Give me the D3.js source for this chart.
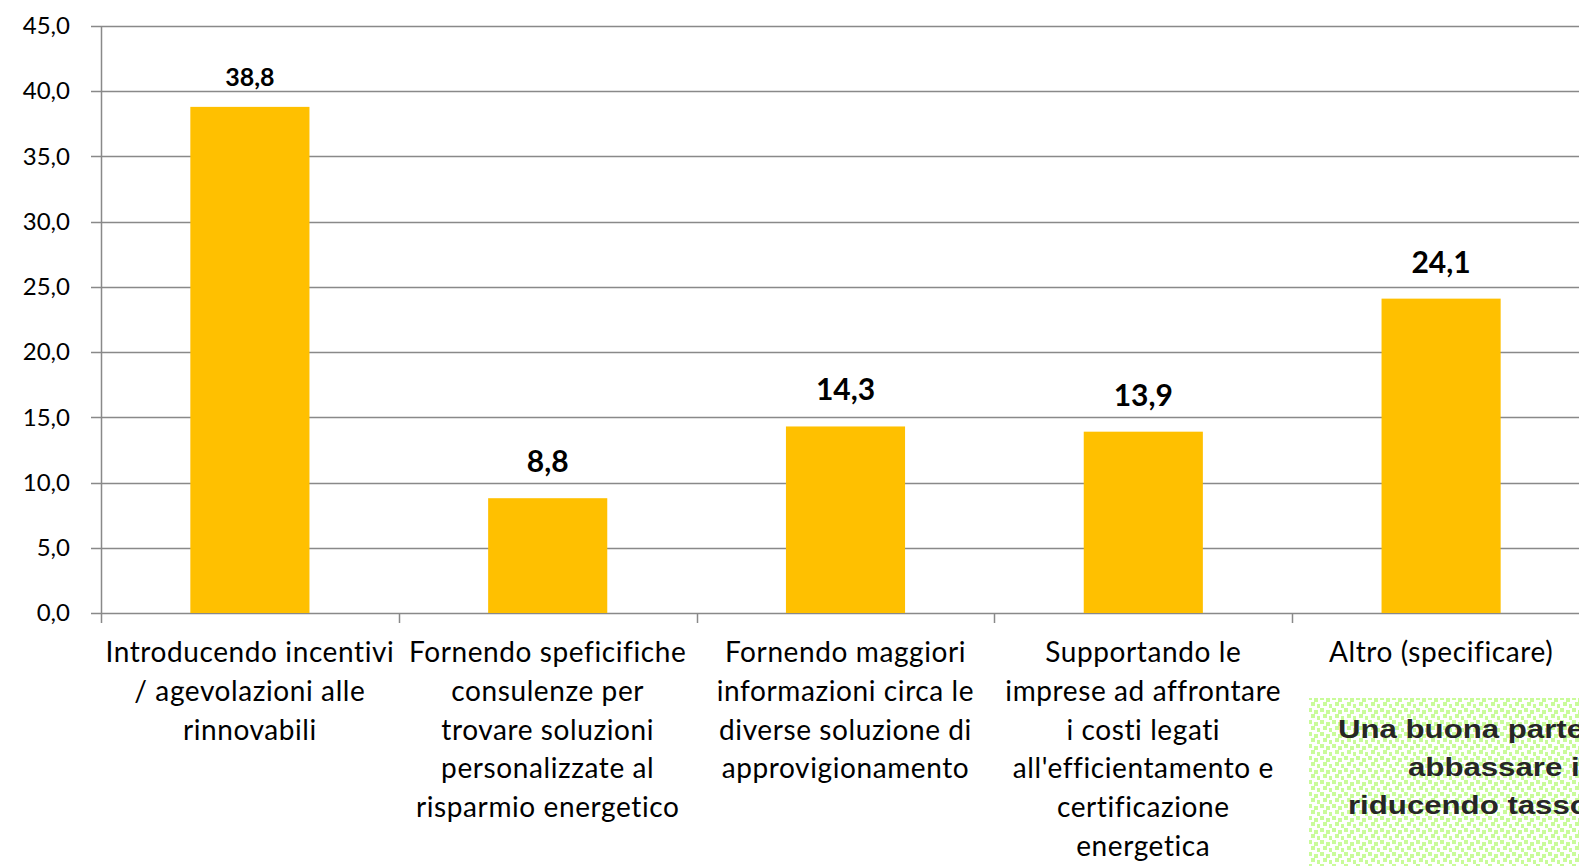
<!DOCTYPE html>
<html>
<head>
<meta charset="utf-8">
<script src="https://cdn.jsdelivr.net/npm/d3@7"></script>
<style>
  html, body { margin: 0; padding: 0; background: #fff; overflow: hidden; }
  svg { display: block; }
</style>
</head>
<body>
<div id="chart"></div>
<script>
// categories (already split in lines like the original)
var categories = [
  ["Introducendo incentivi", "/ agevolazioni alle", "rinnovabili"],
  ["Fornendo speficifiche", "consulenze per", "trovare soluzioni", "personalizzate al", "risparmio energetico"],
  ["Fornendo maggiori", "informazioni circa le", "diverse soluzione di", "approvigionamento"],
  ["Supportando le", "imprese ad affrontare", "i costi legati", "all'efficientamento e", "certificazione", "energetica"],
  ["Altro (specificare)"]
];
var values = [38.8, 8.8, 14.3, 13.9, 24.1];
var yTicks = [0, 5, 10, 15, 20, 25, 30, 35, 40, 45];
var noteLines = ["Una buona parte", "abbassare i", "riducendo tasso"];

var W = 1579, H = 866;
var mLeft = 101, mTop = 26, mBottom = 613, mRight = 1590;

var svg = d3.select('#chart').append('svg')
  .attr('width', W)
  .attr('height', H);

var x = d3.scaleBand()
  .domain(d3.range(values.length))
  .range([mLeft, mRight])
  .paddingInner(0.6)
  .paddingOuter(0.3);

var xCat = d3.scaleBand()
  .domain(d3.range(values.length))
  .range([mLeft, mRight]);

var y = d3.scaleLinear()
  .domain([0, 45])
  .range([mBottom, mTop]);

var fmt = function(v) { return d3.format('.1f')(v).replace('.', ','); };

// gridlines
svg.append('g').selectAll('line').data(yTicks).enter()
  .append('line')
  .attr('x1', 91).attr('x2', W)
  .attr('y1', function(d) { return Math.round(y(d)) + 0.5; })
  .attr('y2', function(d) { return Math.round(y(d)) + 0.5; })
  .style('stroke', '#898989')
  .style('stroke-width', 1.5);

// y axis
var yAxis = d3.axisLeft(y).tickValues(yTicks).tickFormat(fmt).tickSize(0).tickPadding(31);
var yg = svg.append('g').attr('transform', 'translate(' + mLeft + ',0)').call(yAxis);
yg.select('.domain').remove();
yg.selectAll('text')
  .style('font-family', 'Lato, "Open Sans", sans-serif')
  .style('font-size', '24px')
  .style('fill', '#000');
svg.append('line')
  .attr('x1', mLeft + 0.5).attr('x2', mLeft + 0.5)
  .attr('y1', mTop).attr('y2', mBottom + 10)
  .style('stroke', '#898989').style('stroke-width', 1.5);

// category ticks
svg.append('g').selectAll('line').data(d3.range(1, values.length)).enter()
  .append('line')
  .attr('x1', function(d) { return Math.round(xCat(d)) + 0.5; })
  .attr('x2', function(d) { return Math.round(xCat(d)) + 0.5; })
  .attr('y1', mBottom).attr('y2', mBottom + 10)
  .style('stroke', '#898989').style('stroke-width', 1.5);

// bars
svg.append('g').selectAll('rect').data(values).enter()
  .append('rect')
  .attr('x', function(d, i) { return x(i); })
  .attr('width', x.bandwidth())
  .attr('y', function(d) { return y(d); })
  .attr('height', function(d) { return mBottom - y(d); })
  .style('fill', '#FFC000');

// value labels
svg.append('g').selectAll('text').data(values).enter()
  .append('text')
  .attr('x', function(d, i) { return x(i) + x.bandwidth() / 2; })
  .attr('y', function(d, i) { return y(d) - (i === 0 ? 21 : 26); })
  .attr('text-anchor', 'middle')
  .style('font-family', 'Lato, "Open Sans", sans-serif')
  .style('font-weight', 'bold')
  .style('font-size', function(d, i) { return i === 0 ? '25px' : '30px'; })
  .style('fill', '#000')
  .text(fmt);

// category labels
var cat = svg.append('g').selectAll('text').data(categories).enter()
  .append('text')
  .attr('text-anchor', 'middle')
  .style('font-family', 'Lato, "Open Sans", sans-serif')
  .style('font-size', '28px')
  .style('letter-spacing', '0.6px')
  .style('fill', '#000');
cat.selectAll('tspan').data(function(d, i) { return d.map(function(l) { return {l: l, i: i}; }); })
  .enter().append('tspan')
  .attr('x', function(d) { return xCat(d.i) + xCat.bandwidth() / 2; })
  .attr('y', function(d, j) { return 662 + j * 38.8; })
  .text(function(d) { return d.l; });

// note box with dotted green pattern
var defs = svg.append('defs');
var pat = defs.append('pattern')
  .attr('id', 'dots')
  .attr('patternUnits', 'userSpaceOnUse')
  .attr('width', 12).attr('height', 12);
pat.append('rect').attr('width', 12).attr('height', 12).style('fill', '#fff');
[[0, 0], [6, 2], [3, 6], [9, 8]].forEach(function(p) {
  pat.append('rect').attr('x', p[0]).attr('y', p[1])
    .attr('width', 4).attr('height', 4).style('fill', '#c9fb9a');
});
svg.append('rect')
  .attr('x', 1309).attr('y', 698)
  .attr('width', W - 1309 + 10).attr('height', H - 698 + 10)
  .style('fill', 'url(#dots)');

var noteX = [1338, 1408, 1348];
var sx = 1.2;
svg.append('g')
  .attr('transform', 'scale(' + sx + ',1)')
  .selectAll('text').data(noteLines).enter()
  .append('text')
  .attr('x', function(d, i) { return noteX[i] / sx; })
  .attr('y', function(d, i) { return 738 + i * 38; })
  .style('font-family', '"Liberation Sans", Arial, sans-serif')
  .style('font-weight', 'bold')
  .style('font-size', '26px')
  .style('fill', '#262626')
  .text(function(d) { return d; });
</script>
</body>
</html>
